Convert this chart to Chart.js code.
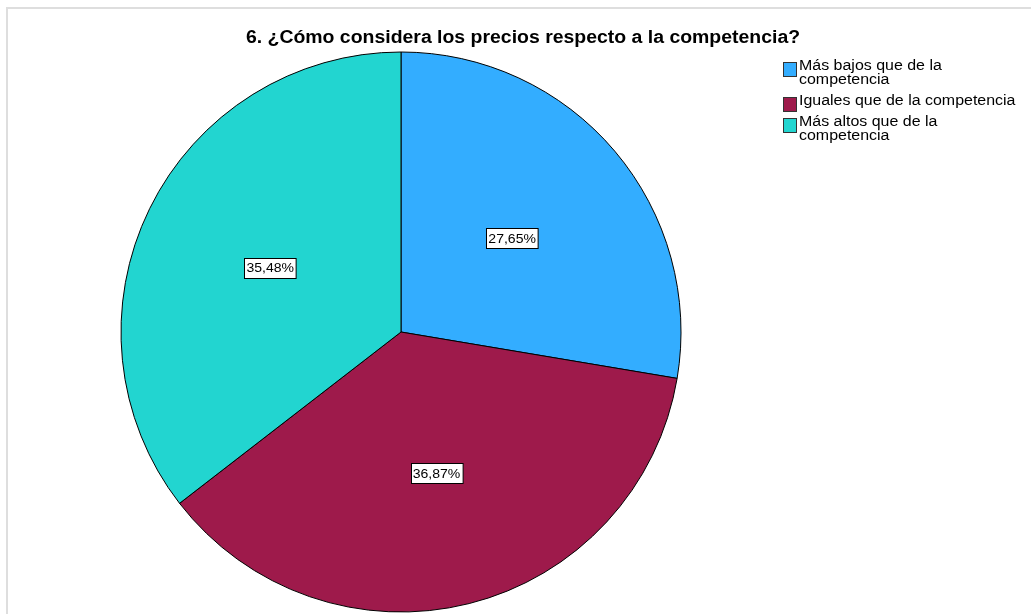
<!DOCTYPE html>
<html>
  <head>
    <meta charset="UTF-8">
    <script src="https://cdn.jsdelivr.net/npm/chart.js@4.4.1/dist/chart.umd.min.js"></script>
    <title>Precios respecto a la competencia</title>
    <style>
      html, body { margin: 0; padding: 0; background: #fff; }
      #wrap { width: 1031px; height: 614px; }
    </style>
  </head>
  <body>
    <div id="wrap"><canvas id="myChartPrecios" width="1031" height="614"></canvas></div>
    <script type="text/javascript">
      // datos de la pregunta 6
      var titulo = '6. ¿Cómo considera los precios respecto a la competencia?';
      var categorias = [
        ['Más bajos que de la', 'competencia'],
        ['Iguales que de la competencia'],
        ['Más altos que de la', 'competencia']
      ];
      var porcentajes = [27.65, 36.87, 35.48];
      var colores = ['#33adff', '#9e1a4b', '#22d5d0'];

      var fuente = '"Liberation Sans", Arial, sans-serif';

      function formatoPct (v) {
        return v.toFixed(2).replace('.', ',') + '%';
      }

      // texto algo ensanchado en horizontal
      function textoAncho (ctx, t, x, y, sx) {
        ctx.save();
        ctx.translate(x, y);
        ctx.scale(sx, 1);
        ctx.fillText(t, 0, 0);
        ctx.restore();
      }

      // marco, titulo, leyenda y etiquetas de porcentaje
      var dibujoExtra = {
        id: 'dibujoExtra',
        beforeDraw: function (chart) {
          var ctx = chart.ctx;
          ctx.save();
          ctx.fillStyle = '#ffffff';
          ctx.fillRect(0, 0, chart.width, chart.height);
          ctx.strokeStyle = '#dedede';
          ctx.lineWidth = 2;
          ctx.strokeRect(7, 8, chart.width + 20, chart.height + 20);
          ctx.restore();
        },
        afterDraw: function (chart) {
          var ctx = chart.ctx;
          ctx.save();

          // titulo
          ctx.fillStyle = '#000';
          ctx.font = 'bold 18px ' + fuente;
          ctx.textAlign = 'center';
          ctx.textBaseline = 'alphabetic';
          textoAncho(ctx, titulo, 523, 43, 1.08);

          // leyenda
          ctx.font = '14px ' + fuente;
          ctx.textAlign = 'left';
          ctx.textBaseline = 'middle';
          var y = 66;
          categorias.forEach(function (lineas, i) {
            ctx.fillStyle = colores[i];
            ctx.fillRect(783.5, y - 3.5, 13, 14);
            ctx.strokeStyle = '#333';
            ctx.lineWidth = 1;
            ctx.strokeRect(783.5, y - 3.5, 13, 14);
            ctx.fillStyle = '#000';
            lineas.forEach(function (t, j) {
              textoAncho(ctx, t, 799, y + j * 14, 1.14);
            });
            y += (lineas.length - 1) * 14 + 21;
          });

          // etiquetas de cada sector
          var meta = chart.getDatasetMeta(0);
          ctx.font = '13px ' + fuente;
          ctx.textAlign = 'center';
          ctx.textBaseline = 'middle';
          meta.data.forEach(function (arc, i) {
            var p = arc.getProps(['x', 'y', 'startAngle', 'endAngle', 'outerRadius'], true);
            var a = (p.startAngle + p.endAngle) / 2;
            var r = p.outerRadius * 0.52;
            var cx = p.x + Math.cos(a) * r;
            var cy = p.y + Math.sin(a) * r;
            var txt = formatoPct(porcentajes[i]);
            var w = ctx.measureText(txt).width * 1.08 + 4;
            var h = 20;
            var bx = Math.round(cx - w / 2) + 0.5;
            var by = Math.round(cy - h / 2) + 0.5;
            ctx.fillStyle = '#fff';
            ctx.fillRect(bx, by, w, h);
            ctx.strokeStyle = '#000';
            ctx.strokeRect(bx, by, w, h);
            ctx.fillStyle = '#000';
            textoAncho(ctx, txt, cx, cy + 1, 1.08);
          });
          ctx.restore();
        }
      };

      var ctx = document.getElementById('myChartPrecios').getContext('2d');
      var myChart = new Chart(ctx, {
        type: 'pie',
        data: {
          labels: categorias.map(function (l) { return l.join(' '); }),
          datasets: [{
            data: porcentajes,
            backgroundColor: colores,
            borderColor: '#000',
            borderWidth: 1,
            radius: 280
          }]
        },
        options: {
          responsive: false,
          animation: false,
          layout: { padding: { left: 121, right: 350, top: 52, bottom: 2 } },
          plugins: {
            legend: { display: false },
            title: { display: false },
            tooltip: { enabled: false }
          }
        },
        plugins: [dibujoExtra]
      });
    </script>
  </body>
</html>
